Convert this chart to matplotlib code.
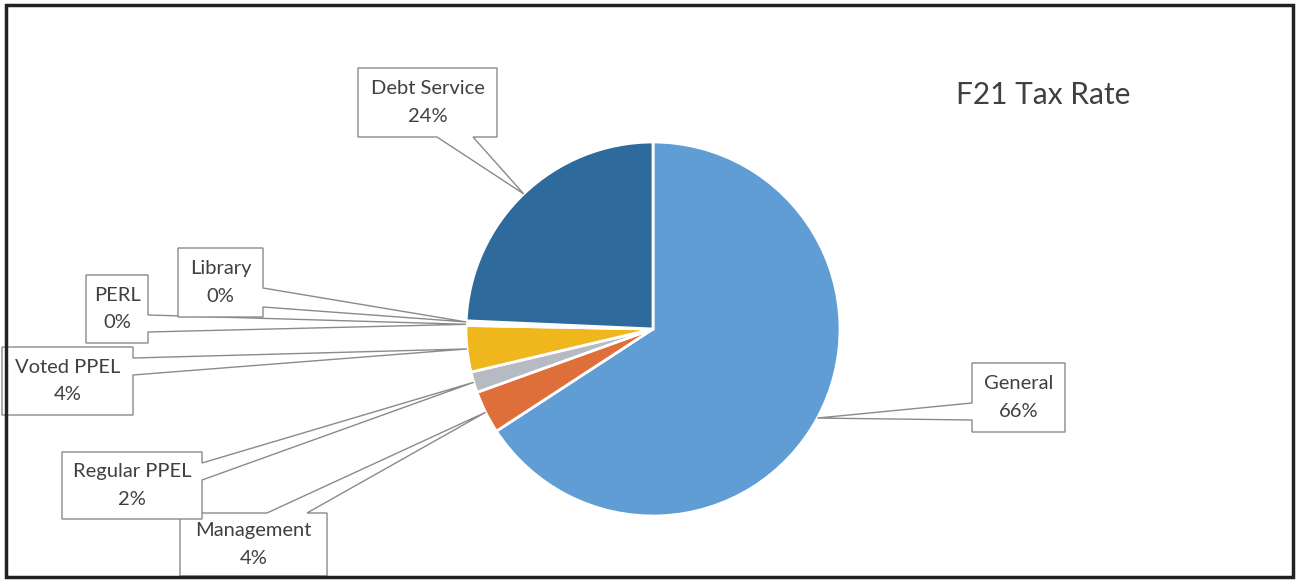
import numpy as np
import matplotlib
matplotlib.use('Agg')
import matplotlib.pyplot as plt
from matplotlib.patches import Polygon, Rectangle

W, H = 1296, 582

labels = ['General', 'Management', 'Regular PPEL', 'Voted PPEL', 'PERL', 'Library', 'Debt Service']
values = [65.8, 3.7, 1.8, 4.0, 0.2, 0.2, 24.3]
colors = ['#5f9dd4', '#de6f3a', '#b6bac2', '#efb71c', '#4472c4', '#70ad47', '#2e6a9b']

# callout boxes in pixel coords: (x0, y0, x1, y1), edge the pointer leaves from, two base points along it
callouts = {
    'General':      ((972, 363, 1065, 432), 'left',   (403, 420)),
    'Management':   ((180, 513, 327, 576), 'top',    (267, 307)),
    'Regular PPEL': ((62, 452, 202, 519),  'right',  (463, 480)),
    'Voted PPEL':   ((2, 347, 133, 415),   'right',  (358, 375)),
    'PERL':         ((86, 275, 148, 343),  'right',  (315, 332)),
    'Library':      ((178, 248, 263, 317), 'right',  (288, 307)),
    'Debt Service': ((358, 68, 497, 137),  'bottom', (437, 473)),
}

plt.rcParams['font.family'] = ['Lato', 'DejaVu Sans']

fig = plt.figure(figsize=(W / 100, H / 100), dpi=100)
ax = fig.add_axes([0, 0, 1, 1])

cx, cy, r = 653, H - 329, 187
wedges, _ = ax.pie(values, colors=colors, startangle=90, counterclock=False,
                   center=(cx, cy), radius=r, frame=True,
                   wedgeprops=dict(edgecolor='white', linewidth=2))
ax.set_xlim(0, W)
ax.set_ylim(0, H)
ax.set_aspect('auto')
ax.axis('off')


def callout_poly(rect, edge, base, tip):
    x0, y0, x1, y1 = rect
    b1, b2 = base
    if edge == 'bottom':
        pts = [(x0, y0), (x1, y0), (x1, y1), (b2, y1), None, (b1, y1), (x0, y1)]
    elif edge == 'top':
        pts = [(x0, y0), (b1, y0), None, (b2, y0), (x1, y0), (x1, y1), (x0, y1)]
    elif edge == 'right':
        pts = [(x0, y0), (x1, y0), (x1, b1), None, (x1, b2), (x1, y1), (x0, y1)]
    else:
        pts = [(x0, y0), (x1, y0), (x1, y1), (x0, y1), (x0, b2), None, (x0, b1)]
    # pixel -> data (y up), the tip is already in data coords
    return [tip if p is None else (p[0], H - p[1]) for p in pts]


for w, lab, v in zip(wedges, labels, values):
    rect, edge, base = callouts[lab]
    mid = np.deg2rad((w.theta1 + w.theta2) / 2)
    tip = (cx + r * np.cos(mid), cy + r * np.sin(mid))
    poly = Polygon(callout_poly(rect, edge, base, tip), closed=True,
                   facecolor='white', edgecolor='#8a8a8a', linewidth=1, zorder=3)
    ax.add_patch(poly)
    x0, y0, x1, y1 = rect
    ax.text((x0 + x1) / 2, H - (y0 + y1) / 2, f'{lab}\n{round(v)}%', ha='center', va='center',
            fontsize=14.5, color='#404040', linespacing=1.75, zorder=4)

ax.text(1043, H - 95, 'F21 Tax Rate', ha='center', va='center', fontsize=21.5,
        color='#404040')

# outer frame
ax.add_patch(Rectangle((6, H - 577), 1287, 572, fill=False, edgecolor='#222222',
                       linewidth=2.5, zorder=5))

fig.savefig('out.png', dpi=100)
